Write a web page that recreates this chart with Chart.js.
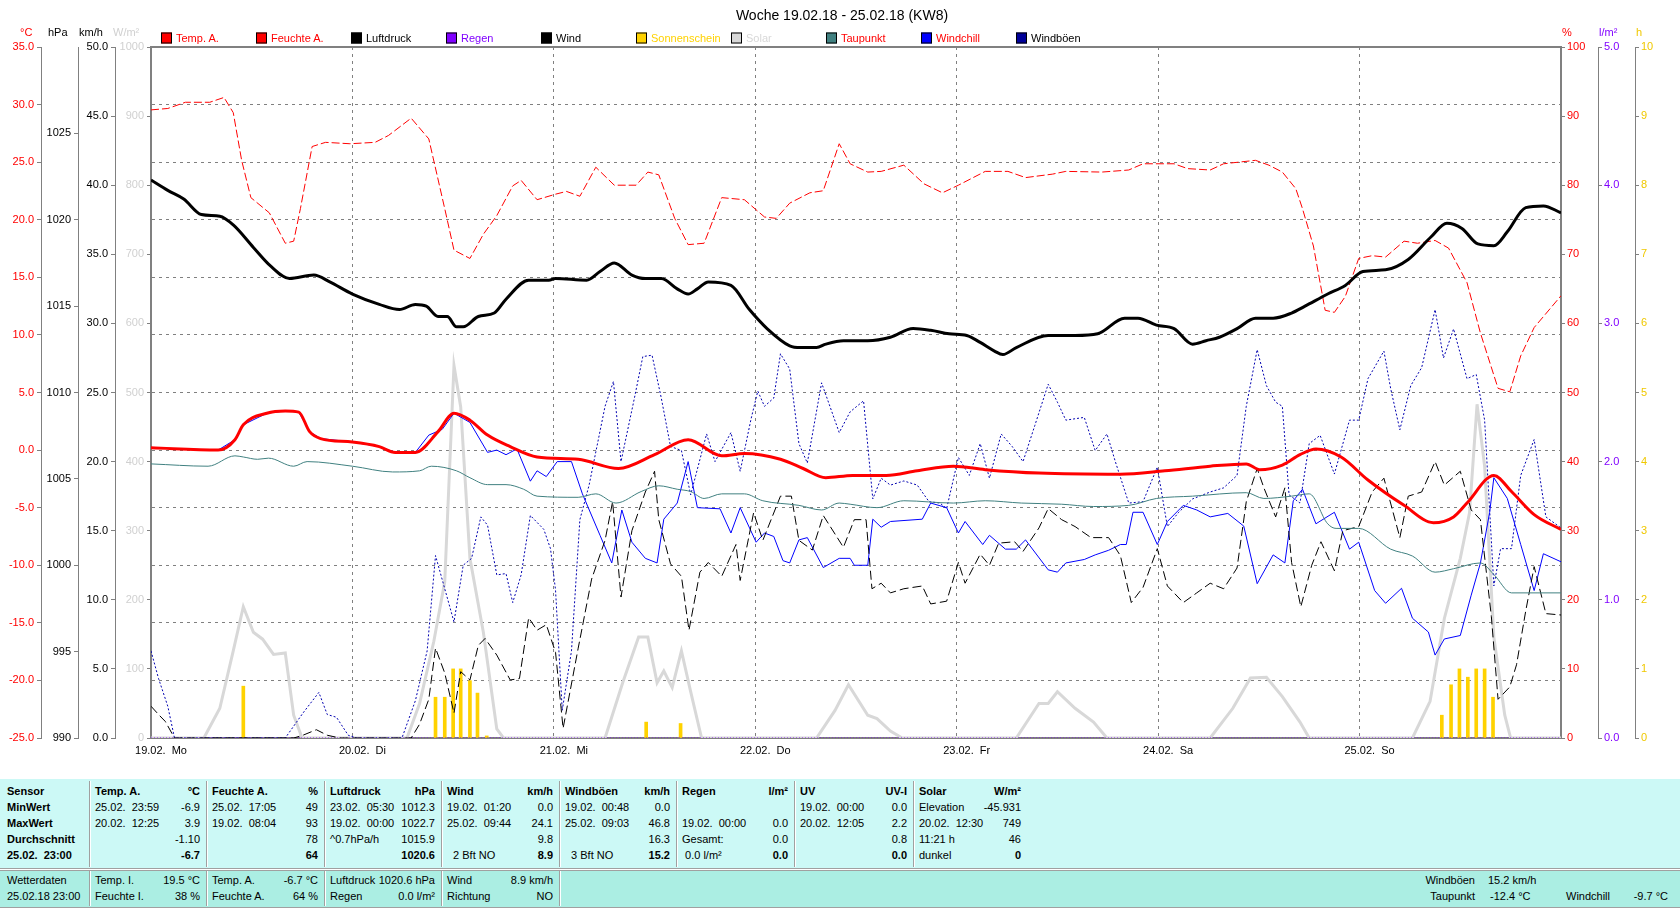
<!DOCTYPE html>
<html><head><meta charset="utf-8">
<script src="https://cdn.jsdelivr.net/npm/chart.js@4.4.1/dist/chart.umd.min.js"></script>
<style>
html,body{margin:0;padding:0;background:#fff;width:1680px;height:909px;overflow:hidden;font-family:"Liberation Sans",Arial,sans-serif;font-size:11px;}
#wrap{position:relative;width:1680px;height:909px;}
canvas#c{position:absolute;left:0;top:0;}
.t{position:absolute;white-space:pre;line-height:13px;transform:translateY(-50%);}
.b{font-weight:bold;}
.box{position:absolute;width:9px;height:9px;border:1px solid #000;transform:translateY(-50%);}
.sec{position:absolute;left:0;width:1680px;}
.vs{position:absolute;width:1px;background:#a0a0a0;border-right:1px solid #fff;}
</style></head><body>
<div id="wrap"><canvas id="c" width="1680" height="770"></canvas></div>
<script>
// ---------- data ----------
const dayLabels = ['19.02.  Mo','20.02.  Di','21.02.  Mi','22.02.  Do','23.02.  Fr','24.02.  Sa','25.02.  So'];

const tempH = [0,8,10,11,13.8,16,17.6,18.9,20.2,24,27.2,29.1,31.5,34.2,36.1,38,40.1,42.8,46,50.9,55.7,60,64,68,70.7,75,77.7,80.4,83.6,87.6,91.3,95.6,99.4,105.8,115.5,120.8,126.2,130.5,132.1,134.8,136.9,138.8,141.8,145,149.3,152.8,155.2,156.8,160,162.1,164.8,168];
const tempV = [0.2,0.0,0.9,2.2,3.2,3.4,3.3,1.6,1.0,0.7,0.3,-0.2,-0.2,1.6,3.2,2.6,1.3,0.3,-0.6,-0.8,-1.6,-0.4,0.9,-0.5,-0.3,-0.8,-1.6,-2.4,-2.2,-2.2,-1.8,-1.4,-1.7,-2.0,-2.1,-1.8,-1.4,-1.2,-1.7,-1.3,-0.4,0.1,-0.6,-2.6,-4.8,-6.3,-5.8,-4.6,-2.2,-3.6,-5.6,-6.9];

const humH = [0,2,4.1,7,8.7,9.8,10.8,11.9,14.1,16,17,17.8,19.2,20.8,23.7,26.7,28.3,31,33.1,35,36.1,38,39.6,41.2,43.1,44.1,46,48.2,49.5,51.1,53,55.2,57.8,59.2,60.5,62.4,64,65.9,68,70.7,73.1,74.5,76.1,78.5,80.1,82,83.3,85.4,87,89.7,92.1,94.3,96.2,99.4,102.1,104.2,107.4,109,113.3,116.5,118.2,121.9,123.5,126.2,127.8,131.6,133.2,134.8,136.4,137.2,138.5,139.9,141,142.3,143.9,145.5,147.1,149.3,150.9,153,154.6,156.8,158.4,160.5,161.9,163.2,164.8,168];
const humV = [90.9,91.1,92,92,92.7,90.5,83.6,78.2,76,71.6,71.9,76.6,85.6,86.2,86,86.2,87.2,89.7,86.7,76.6,70.6,69.4,72.9,75.6,79.9,80.7,77.9,78.7,79.1,78.4,82.6,80,80,81.9,81.5,75.2,71.4,71.6,78.2,77.9,75.4,75.2,77.4,78.9,79.2,86,83.1,81.9,82,82.9,80.2,78.9,80,82,82,81.1,81.6,82,81.9,82.2,83.1,83.1,82.4,82.2,83.1,83.6,82.9,81.9,79.5,76.6,71.2,61.9,61.6,63.9,69.4,69.8,69.6,71.9,71.6,72,70.9,65.9,58.6,50.6,50.1,55.3,59.4,64];

const presH = [0,2,3.9,6,8.2,9.8,12.2,14.3,16.5,19.4,21.3,24,27.2,29.6,31.5,32.8,34.2,35.3,36.4,37.2,39,40.9,42.3,45,47.4,48.2,51.9,53.5,55.2,57.3,58.9,60.8,62.7,64,65.1,66.4,69.1,71.3,73.4,76.1,77.4,79.3,80.4,82.5,85.4,88.1,90.8,92.9,95.1,97.2,98.8,100.5,101.5,103.1,106.9,110.1,112.8,116,117.6,119.8,121.9,124.1,125.7,127.3,129.4,131.6,133.7,135.9,137.5,140.2,142.3,144.4,147.1,149.8,152.5,154.4,156.2,158.1,160,161.6,163.8,165.9,168];
const presV = [1022.3,1021.7,1021.2,1020.3,1020.2,1019.7,1018.4,1017.3,1016.6,1016.8,1016.4,1015.7,1015.1,1014.8,1015.1,1015.0,1014.4,1014.4,1013.8,1013.8,1014.4,1014.6,1015.4,1016.5,1016.5,1016.6,1016.5,1017,1017.5,1016.8,1016.6,1016.6,1016,1015.7,1016,1016.4,1016.2,1014.8,1013.7,1012.7,1012.6,1012.6,1012.8,1013,1013,1013.2,1013.7,1013.6,1013.4,1013.3,1012.9,1012.4,1012.2,1012.6,1013.3,1013.3,1013.4,1014.3,1014.3,1013.9,1013.7,1012.8,1013,1013.2,1013.7,1014.3,1014.3,1014.6,1015,1015.7,1016.2,1017,1017.1,1017.7,1019,1019.8,1019.5,1018.6,1018.5,1019.3,1020.7,1020.8,1020.4];

const dewH = [0,6.8,10,11,12.7,14,17,18.6,24,28.8,32,33.4,36.4,38,40.1,42.3,44.4,46,50.9,53,55.4,58.4,60.5,62.7,64.3,65.9,68,70.7,72.9,77.2,79.9,82,83.3,86.5,89.7,95.6,99.4,103.7,108.5,112.3,116.5,119.8,124.1,130.5,132.6,135.9,138,140.2,141.2,143.9,147.7,150.3,153,155.2,158.4,160,162.1,168];
const dewV = [-1.2,-1.4,-0.5,-0.6,-0.8,-0.7,-1.4,-1.0,-1.4,-1.9,-1.8,-1.4,-1.8,-2.4,-3.0,-3.0,-3.4,-4.0,-4.1,-3.8,-4.6,-3.6,-3.1,-3.4,-3.6,-4.2,-3.8,-3.8,-4.4,-4.8,-5.2,-4.6,-4.7,-5.0,-4.4,-4.6,-4.4,-4.6,-4.7,-4.9,-4.8,-4.2,-4.0,-3.7,-4.2,-4.0,-3.8,-6.4,-6.8,-6.8,-8.6,-9.2,-10.6,-10.3,-9.8,-10.8,-12.4,-12.4];

const chillH = [0,8,10,11,13.8,16,17.6,18.9,20.2,24,27.2,29.1,31.5,33.1,34.7,36.1,38,40.1,41.2,42.3,43.6,45.2,46,47.1,48.4,50.1,51.4,53.5,54.9,56.1,57.3,58.9,60.3,61.1,62.7,64,65.1,67.8,69.1,70.2,72.1,73.1,74.2,75.3,76.1,77.2,78.2,80.1,82,83.3,83.8,85.4,86,87,88.1,91.9,92.9,94.8,96.2,97,99.1,99.9,101.8,103.1,104.2,106.9,108,109,111.2,112.5,114.1,115.5,116.2,117,118.2,119.9,121.1,123,124.6,126.2,128.3,130.2,131.8,133.7,135.1,136.1,137.2,138.8,141,142.8,143.9,145.8,147.1,149,150.3,152.2,153,154.1,156,157.3,158.4,159.5,160,161.6,163.2,164.8,165.9,168];
const chillV = [0.2,0.0,0.9,2.2,3.2,3.4,3.3,1.6,1.0,0.7,0.3,-0.2,-0.2,1.3,1.8,3.2,2.4,-0.2,0.0,-0.4,0.1,-2.7,-1.8,-2.3,-1.0,-1.0,-3.8,-7.4,-9.8,-5.2,-8.0,-9.4,-9.8,-6.0,-4.6,-1.0,-5.0,-5.1,-7.2,-5.0,-8.0,-7.2,-7.5,-9.6,-9.8,-7.8,-7.6,-10.2,-9.4,-9.4,-10.0,-10.0,-6.0,-6.7,-6.2,-6.0,-4.6,-5.0,-7.2,-6.2,-8.2,-7.4,-8.6,-8.6,-7.8,-10.4,-10.6,-9.8,-9.5,-9.1,-8.7,-8.2,-8.2,-5.4,-5.4,-8.2,-6.2,-4.8,-5.2,-5.8,-5.5,-6.6,-11.6,-9.1,-9.8,-4.4,-3.4,-6.4,-5.4,-8.6,-8.0,-12.2,-13.3,-12.0,-14.6,-15.8,-17.8,-16.4,-16.1,-12.6,-9.8,-5.4,-2.4,-4.2,-8.2,-12.2,-9.0,-9.7];

const windH = [0,0.9,1.7,2.8,17,18.1,19.7,21,22.5,31,32,33.1,33.9,35,36.1,36.9,38,39,39.8,41.2,42.8,43.9,45,46,47.1,48.2,49.1,50.9,52.5,54.1,55,56,57.3,58.9,60,60.5,61.9,63.2,64.1,65.4,66.4,68,69.7,70.2,71.8,72.9,75,76.3,77.2,78.8,80.1,82.5,83.8,85.2,85.9,87,88.1,89.7,91.9,92.9,94.8,96.2,97,98.8,99.9,101,102.9,103.9,105.8,106.9,108.5,110.1,112,114.1,115.5,116.8,118.2,119.9,121.1,123,124.6,126.2,127.8,129.4,130.5,131.8,132.6,134,135.1,135.9,137,138.3,139.4,141,142,143.9,145.5,146.9,148.8,149.8,151.4,153,154.1,156,157.3,158.4,159.7,160.5,161.9,162.7,163.8,164.8,166.2,168];
const windV = [2.3,1.7,1.2,0,0,0.2,0.6,0.2,0,0,1.0,2.8,6.5,4.7,1.8,4.8,4.2,6.7,7.2,6.0,4.2,4.3,8.7,7.8,8.2,6.2,0.7,6.5,11.5,14.3,17.1,10.2,15,17.8,19.3,15.8,12.6,11.7,7.8,12,12.7,11.7,14,11.4,16.3,14.3,17.5,17.5,14.3,13.6,16.1,13.8,15.8,15.8,10.8,11.2,10.5,10.8,11,9.7,9.9,12.7,11.2,13.3,12.5,14.1,14.2,13.5,15.2,16.6,15.8,15.3,14.5,14.5,13.2,9.8,10.9,13.7,11,9.8,10.5,11.2,10.8,12.3,17.1,19.5,18.1,16,18.1,12.7,9.5,12.5,14.2,12.1,15,15.3,17.8,18.8,14.5,17.5,17.8,20,18.3,19.3,16.5,15.8,8.8,2.8,3.7,5.3,9.2,12.4,9,8.9];

const gustH = [0,0.9,2,2.8,16,18.1,20,21,22.1,23.5,24.5,29.9,31.5,32.9,33.9,35,36.1,37.2,38.2,39.3,40.1,41.2,42.3,43.1,44.1,45.2,46.8,47.6,48.2,49,50.1,51.1,52.2,54.1,55.1,56,57.6,58.6,59.7,60.8,61.9,63.2,64.3,66.2,67.2,69.1,70.2,71.5,72.3,73.1,74.2,75,76.1,77.2,78.2,79.9,82,83.3,84.9,86,87,88.1,89.7,91.3,92.7,94,94.8,96.2,97.5,98.8,99.9,101.3,102.6,103.9,105.3,106.9,108,109,111.2,112.5,113.9,114.9,116.5,118.2,119.9,121.1,122.4,124.1,126.2,127.8,129.4,130.5,131.8,132.9,134,134.8,135.6,136.9,138,139.3,141,142.8,143.9,145,146.9,147.7,148.8,150.1,151.4,153,154,155.2,156.8,157.9,158.9,160,160.8,162.1,163.2,164.8,166.2,168];
const gustV = [6.3,4.3,2.3,0,0,1.8,3.3,1.7,1.5,0.2,0,0,2.7,6.3,13.2,10.8,8.4,12.5,13,16,15.4,11.8,11.9,9.8,11.8,16.1,15.1,13.7,10.7,2,6.3,15.8,18.3,24,25.8,20,24.6,27.6,27.7,24.6,21.1,20.8,17.6,22,20,22.1,19.3,23.1,25.1,24,24.6,27.8,26.7,21.3,19.9,25.7,22.1,23.6,24.4,17.3,18.8,18.3,18.6,18.3,17.1,17,16.6,20.3,19,21.3,18.8,22,21.1,20,22.6,25.6,24.3,23,23.2,20.8,22,20,17,17.1,19.6,15.3,16.3,17.3,17.8,18.1,19,24,28.1,25.5,24.3,24,17.6,17,21.3,21.9,19.1,23,23,26,28,25.3,22.3,25.5,26.8,31,27.5,29.6,26,26.3,23,11,13.7,13.7,19,21.6,16,15.2];

const solarH = [0,6.3,8.2,9.8,11,12.2,13.3,14.6,16,17,18,30.5,32,33.7,35,36.1,36.9,38,39.6,41.2,42,54.1,56.2,58.1,59.2,60.3,61.1,62.1,63.2,64.3,65.6,79.3,81.5,83.1,85.4,86.5,88.1,89.5,103.1,105.8,106.9,108,110.1,112.3,113.9,126.2,128.9,131,132.9,134.8,136.9,138,150.3,152.4,154.1,156,157.1,158,158.9,160,161.3,162,168];
const solarV = [0,0,43,126,190,153,143,121,123,33,0,0,50,140,226,539,479,260,153,13,0,0,80,146,146,80,97,73,126,67,0,0,40,77,33,28,10,0,0,50,50,67,43,23,0,0,43,87,88,60,23,0,0,53,173,260,326,483,393,146,33,0,0];

const sunH = [11,33.9,35,36,36.9,38,38.9,40,59,63.1,153.8,154.9,155.9,156.9,157.9,158.9,159.9];
const sunV = [0.75,0.59,0.59,1.0,1.0,0.83,0.65,0.03,0.23,0.21,0.33,0.77,1.0,0.88,1.0,1.0,0.59];

const rainH = [0,168];
const rainV = [0,0];

// ---------- legend / labels ----------
const legendNames  = ['Temp. A.','Feuchte A.','Luftdruck','Regen','Wind','Sonnenschein','Solar','Taupunkt','Windchill','Windböen'];
const legendBoxes  = ['#ff0000','#ff0000','#000000','#8000ff','#000000','#ffd200','#d8d8d8','#408080','#0000ff','#000099'];
const legendTexts  = ['#ff0000','#ff0000','#000000','#8000ff','#000000','#ffd200','#d8d8d8','#ff0000','#ff0000','#000000'];

const GREY = '#808080';
const FONT = {family: '"Liberation Sans", Arial, sans-serif', size: 11};
const pts = (h, v) => h.map((x, i) => ({x, y: v[i]}));

const wrap = document.getElementById('wrap');
function addText(x, y, s, o = {}) {
  const d = document.createElement('div');
  d.className = 't' + (o.bold ? ' b' : '');
  d.textContent = s;
  if (o.right) { d.style.right = (1680 - x) + 'px'; } else { d.style.left = x + 'px'; }
  d.style.top = y + 'px';
  if (o.color) d.style.color = o.color;
  if (o.size) d.style.fontSize = o.size + 'px';
  if (o.center) { d.style.transform = 'translate(-50%,-50%)'; }
  wrap.appendChild(d);
  return d;
}

// ---------- chart ----------
function leftAxis(weight, width, min, max, step, color, fmt, extra = {}) {
  return Object.assign({
    type: 'linear', position: 'left', weight, min, max,
    afterFit: s => { s.width = width; },
    ticks: {stepSize: step, color, font: FONT, padding: 3, callback: fmt, autoSkip: false},
    grid: {drawOnChartArea: false, tickLength: 4, tickColor: GREY, color: GREY},
    border: {display: true, color: GREY, width: 1}
  }, extra);
}
function rightAxis(weight, width, min, max, step, color, fmt) {
  return {
    type: 'linear', position: 'right', weight, min, max,
    afterFit: s => { s.width = width; },
    ticks: {stepSize: step, color, font: FONT, padding: 2, callback: fmt, autoSkip: false},
    grid: {drawOnChartArea: false, tickLength: 4, tickColor: GREY, color: GREY},
    border: {display: true, color: GREY, width: weight === 1 ? 2 : 1}
  };
}

const frame = {
  id: 'frame',
  beforeDatasetsDraw(chart) {
    const {ctx, chartArea: a} = chart;
    ctx.save();
    ctx.strokeStyle = GREY; ctx.lineWidth = 2;
    ctx.beginPath(); ctx.moveTo(a.left - 1, a.top); ctx.lineTo(a.right + 1, a.top); ctx.stroke();
    ctx.restore();
  }
};

const yT = leftAxis(4, 37, -25, 35, 5, '#ff0000', v => v.toFixed(1));
yT.grid = {drawOnChartArea: true, tickLength: 4, tickColor: GREY, color: GREY, lineWidth: 1};
yT.border = {display: true, color: GREY, width: 1, dash: [3, 4]};

const yP = leftAxis(3, 37, 990, 1030, 5, '#000000', v => v === 1030 ? '' : String(v));
yP.grid.tickColor = c => (c.tick && c.tick.value === 1030) ? 'rgba(0,0,0,0)' : GREY;

const yW = leftAxis(2, 37, 0, 50, 5, '#000000', v => v.toFixed(1));
const yS = leftAxis(1, 36, 0, 1000, 100, '#d0d0d0', v => String(v));
yS.border = {display: true, color: GREY, width: 2};

new Chart(document.getElementById('c'), {
  type: 'line',
  data: {
    datasets: [
      {label: legendNames[0], data: pts(tempH, tempV), yAxisID: 'yT', borderColor: '#ff0000', borderWidth: 3, pointRadius: 0, cubicInterpolationMode: 'monotone', order: 0},
      {label: legendNames[1], data: pts(humH, humV), yAxisID: 'yH', borderColor: '#ff0000', borderWidth: 1, borderDash: [8, 3], pointRadius: 0, order: 3},
      {label: legendNames[2], data: pts(presH, presV), yAxisID: 'yP', borderColor: '#000000', borderWidth: 3, pointRadius: 0, cubicInterpolationMode: 'monotone', order: 1},
      {label: legendNames[3], data: pts(rainH, rainV), yAxisID: 'yR', borderColor: '#8000ff', borderWidth: 1, borderDash: [1, 2], pointRadius: 0, order: 6},
      {label: legendNames[4], data: pts(windH, windV), yAxisID: 'yW', borderColor: '#000000', borderWidth: 1, borderDash: [9, 4], pointRadius: 0, order: 4},
      {type: 'bar', label: legendNames[5], data: pts(sunH, sunV), yAxisID: 'ySun', backgroundColor: '#ffd200', borderWidth: 0, barThickness: 3, order: 7},
      {label: legendNames[6], data: pts(solarH, solarV), yAxisID: 'yS', borderColor: '#d8d8d8', borderWidth: 3, pointRadius: 0, order: 8},
      {label: legendNames[7], data: pts(dewH, dewV), yAxisID: 'yT', borderColor: '#408080', borderWidth: 1, pointRadius: 0, cubicInterpolationMode: 'monotone', order: 2},
      {label: legendNames[8], data: pts(chillH, chillV), yAxisID: 'yT', borderColor: '#0000ff', borderWidth: 1, pointRadius: 0, order: 5},
      {label: legendNames[9], data: pts(gustH, gustV), yAxisID: 'yW', borderColor: '#0000b0', borderWidth: 1, borderDash: [2, 2], pointRadius: 0, order: 5}
    ]
  },
  options: {
    responsive: false, animation: false, parsing: true,
    layout: {padding: {left: 4, right: 0, top: 47, bottom: 0}},
    plugins: {legend: {display: false}, title: {display: false}, tooltip: {enabled: false}},
    scales: {
      x: {
        type: 'linear', min: 0, max: 168, offset: false,
        afterFit: s => { s.height = 32; },
        ticks: {stepSize: 24, autoSkip: false, maxRotation: 0, color: '#000', font: FONT, padding: 6, labelOffset: 10,
                callback: v => dayLabels[v / 24] ?? ''},
        grid: {color: GREY, drawTicks: false, offset: false},
        border: {display: true, color: GREY, width: 2, dash: [3, 4]}
      },
      yT, yP, yW, yS,
      yH: rightAxis(1, 37, 0, 100, 10, '#ff0000', v => String(v)),
      yR: rightAxis(2, 37, 0, 5, 1, '#8000ff', v => v.toFixed(1)),
      ySun: rightAxis(3, 45, 0, 10, 1, '#f0c800', v => String(v))
    }
  },
  plugins: [frame]
});

// ---------- title, units, legend ----------
addText(842, 15, 'Woche 19.02.18 - 25.02.18 (KW8)', {center: true, size: 14});
addText(20, 32, '°C', {color: '#ff0000'});
addText(48, 32, 'hPa');
addText(79, 32, 'km/h');
addText(113, 32, 'W/m²', {color: '#d0d0d0'});
addText(1562, 32, '%', {color: '#ff0000'});
addText(1599, 32, 'l/m²', {color: '#8000ff'});
addText(1636, 32, 'h', {color: '#f0c800'});
legendNames.forEach((n, i) => {
  const x = 161 + 95 * i;
  const b = document.createElement('div');
  b.className = 'box'; b.style.left = x + 'px'; b.style.top = '38px'; b.style.background = legendBoxes[i];
  wrap.appendChild(b);
  addText(x + 15, 38, n, {color: legendTexts[i]});
});

// ---------- table ----------
const upper = document.createElement('div');
upper.className = 'sec'; upper.style.top = '779px'; upper.style.height = '89px'; upper.style.background = '#ccf9f6';
upper.style.borderBottom = '1px solid #a0a0a0';
wrap.appendChild(upper);
const lower = document.createElement('div');
lower.className = 'sec'; lower.style.top = '870px'; lower.style.height = '36px'; lower.style.background = '#abeee3';
lower.style.borderTop = '1px solid #a0a0a0'; lower.style.borderBottom = '1px solid #a0a0a0';
wrap.appendChild(lower);

const colX = [[0,89],[89,206],[206,324],[324,441],[441,559],[559,676],[676,794],[794,913],[913,1027]];
const upperCells = [
  [['Sensor',''],['MinWert',''],['MaxWert',''],['Durchschnitt',''],['25.02.  23:00','']],
  [['Temp. A.','°C'],['25.02.  23:59','-6.9'],['20.02.  12:25','3.9'],['','-1.10'],['','-6.7']],
  [['Feuchte A.','%'],['25.02.  17:05','49'],['19.02.  08:04','93'],['','78'],['','64']],
  [['Luftdruck','hPa'],['23.02.  05:30','1012.3'],['19.02.  00:00','1022.7'],['^0.7hPa/h','1015.9'],['','1020.6']],
  [['Wind','km/h'],['19.02.  01:20','0.0'],['25.02.  09:44','24.1'],['','9.8'],['  2 Bft NO','8.9']],
  [['Windböen','km/h'],['19.02.  00:48','0.0'],['25.02.  09:03','46.8'],['','16.3'],['  3 Bft NO','15.2']],
  [['Regen','l/m²'],['',''],['19.02.  00:00','0.0'],['Gesamt:','0.0'],[' 0.0 l/m²','0.0']],
  [['UV','UV-I'],['19.02.  00:00','0.0'],['20.02.  12:05','2.2'],['','0.8'],['','0.0']],
  [['Solar','W/m²'],['Elevation','-45.931'],['20.02.  12:30','749'],['11:21 h','46'],['dunkel','0']]
];
const rowY = [791, 807, 823, 839, 855];
upperCells.forEach((col, c) => {
  const [x0, x1] = colX[c];
  col.forEach((cell, r) => {
    const bold = r === 0 || c === 0;
    if (cell[0]) addText(x0 + (c === 0 ? 7 : 6), rowY[r], cell[0], {bold});
    if (cell[1]) addText(x1 - 6, rowY[r], cell[1], {right: true, bold: r === 0 || r === 4});
  });
  if (c > 0) {
    const s = document.createElement('div'); s.className = 'vs';
    s.style.left = x0 + 'px'; s.style.top = '781px'; s.style.height = '86px';
    wrap.appendChild(s);
  }
});
const lowerCells = [
  [['Wetterdaten',''],['25.02.18 23:00','']],
  [['Temp. I.','19.5 °C'],['Feuchte I.','38 %']],
  [['Temp. A.','-6.7 °C'],['Feuchte A.','64 %']],
  [['Luftdruck','1020.6 hPa'],['Regen','0.0 l/m²']],
  [['Wind','8.9 km/h'],['Richtung','NO']]
];
const lowY = [880, 896];
lowerCells.forEach((col, c) => {
  const [x0, x1] = colX[c];
  col.forEach((cell, r) => {
    if (cell[0]) addText(x0 + (c === 0 ? 7 : 6), lowY[r], cell[0]);
    if (cell[1]) addText(x1 - 6, lowY[r], cell[1], {right: true});
  });
  const s = document.createElement('div'); s.className = 'vs';
  s.style.left = x1 + 'px'; s.style.top = '871px'; s.style.height = '35px';
  wrap.appendChild(s);
});
addText(1475, 880, 'Windböen', {right: true});
addText(1488, 880, '15.2 km/h');
addText(1475, 896, 'Taupunkt', {right: true});
addText(1490, 896, '-12.4 °C');
addText(1566, 896, 'Windchill');
addText(1668, 896, '-9.7 °C', {right: true});
</script>
</body></html>
